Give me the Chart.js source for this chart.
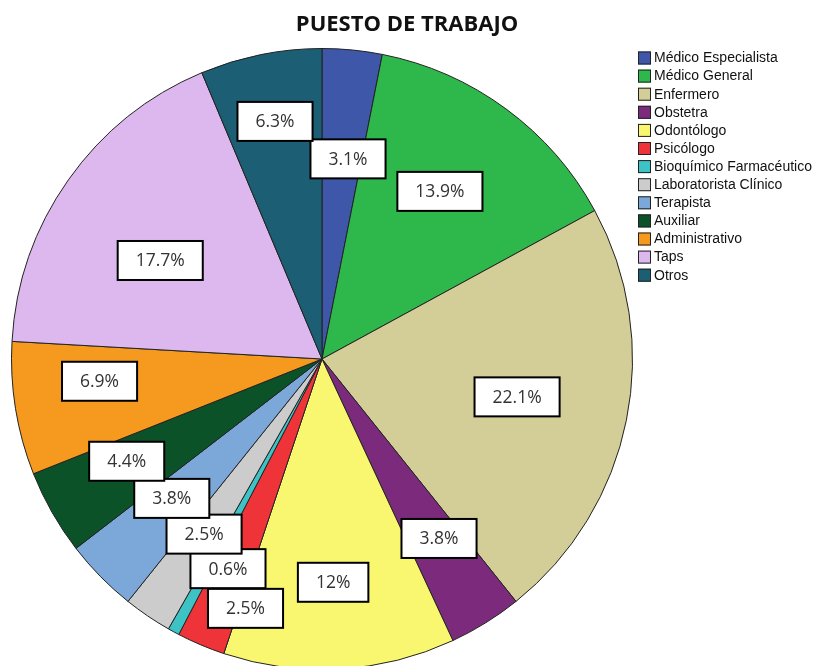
<!DOCTYPE html>
<html>
<head>
<meta charset="utf-8">
<script src="https://cdn.jsdelivr.net/npm/chart.js@4"></script>
<style>
body { margin: 0; overflow: hidden; background: #fff; }
</style>
</head>
<body>
<canvas id="myChart" width="817" height="700"></canvas>
<script>
var categories = ['Médico Especialista', 'Médico General', 'Enfermero', 'Obstetra', 'Odontólogo', 'Psicólogo',
    'Bioquímico Farmacéutico', 'Laboratorista Clínico', 'Terapista', 'Auxiliar', 'Administrativo', 'Taps', 'Otros'];
var percentages = [3.1, 13.9, 22.1, 3.8, 12, 2.5, 0.6, 2.5, 3.8, 4.4, 6.9, 17.7, 6.3];
var sliceColors = ['#3f57a9', '#2eb84b', '#d3cd98', '#7b2a7c', '#f9f66f', '#ee3339', '#3dc3c6',
    '#cccccc', '#7ba8d8', '#0b5229', '#f5991f', '#ddb8ef', '#1c5e74'];

// where each value box sits: fraction of the radius, and a small turn in degrees
var labelRadius = [0.65, 0.66, 0.64, 0.69, 0.72, 0.84, 0.74, 0.68, 0.66, 0.71, 0.72, 0.61, 0.78];
var labelNudge = [1.8, -1.2, -0.4, -1.3, 0.4, -5.9, -4.4, -0.2, 1.6, 2, 3.5, -3.9, 0.2];

var titlePlugin = {
    id: 'titleText',
    afterDraw: function (chart) {
        var c = chart.ctx;
        c.save();
        c.font = 'bold 22px "Open Sans"';
        c.fillStyle = '#111';
        c.textAlign = 'center';
        c.textBaseline = 'middle';
        c.fillText('PUESTO DE TRABAJO', 407, 25);
        c.restore();
    }
};

var legendPlugin = {
    id: 'sideLegend',
    afterDraw: function (chart) {
        var c = chart.ctx;
        c.save();
        c.font = '14px "Liberation Sans"';
        c.textBaseline = 'middle';
        categories.forEach(function (name, i) {
            var y = 58 + i * 18.1;
            c.fillStyle = sliceColors[i];
            c.fillRect(638, y - 6.5, 13, 13);
            c.strokeStyle = '#222';
            c.lineWidth = 1;
            c.strokeRect(638.5, y - 6, 12, 12);
            c.fillStyle = '#111';
            c.fillText(name, 654, y + 0.5);
        });
        c.restore();
    }
};

var valueBoxes = {
    id: 'valueBoxes',
    afterDatasetsDraw: function (chart) {
        var c = chart.ctx;
        var arcs = chart.getDatasetMeta(0).data;
        c.save();
        c.font = '17.5px "Open Sans"';
        c.textAlign = 'center';
        c.textBaseline = 'middle';
        arcs.forEach(function (arc, i) {
            var p = arc.getProps(['x', 'y', 'startAngle', 'endAngle', 'outerRadius'], true);
            var a = (p.startAngle + p.endAngle) / 2 + labelNudge[i] * Math.PI / 180;
            var r = p.outerRadius * labelRadius[i];
            var x = p.x + Math.cos(a) * r;
            var y = p.y + Math.sin(a) * r;
            var txt = percentages[i] + '%';
            var w = c.measureText(txt).width + 36;
            var h = 39;
            c.fillStyle = '#fff';
            c.fillRect(x - w / 2, y - h / 2, w, h);
            c.strokeStyle = '#000';
            c.lineWidth = 2;
            c.strokeRect(x - w / 2, y - h / 2, w, h);
            c.fillStyle = '#333';
            c.fillText(txt, x, y + 1);
        });
        c.restore();
    }
};

var ctx = document.getElementById('myChart').getContext('2d');
var myChart = new Chart(ctx, {
    type: 'pie',
    data: {
        labels: categories,
        datasets: [{
            data: percentages,
            backgroundColor: sliceColors,
            borderColor: '#222',
            borderWidth: 1
        }]
    },
    options: {
        responsive: false,
        animation: false,
        layout: {
            padding: { left: 11, right: 184, top: 48, bottom: 30 }
        },
        plugins: {
            legend: { display: false },
            tooltip: { enabled: false }
        }
    },
    plugins: [titlePlugin, legendPlugin, valueBoxes]
});
</script>
</body>
</html>
